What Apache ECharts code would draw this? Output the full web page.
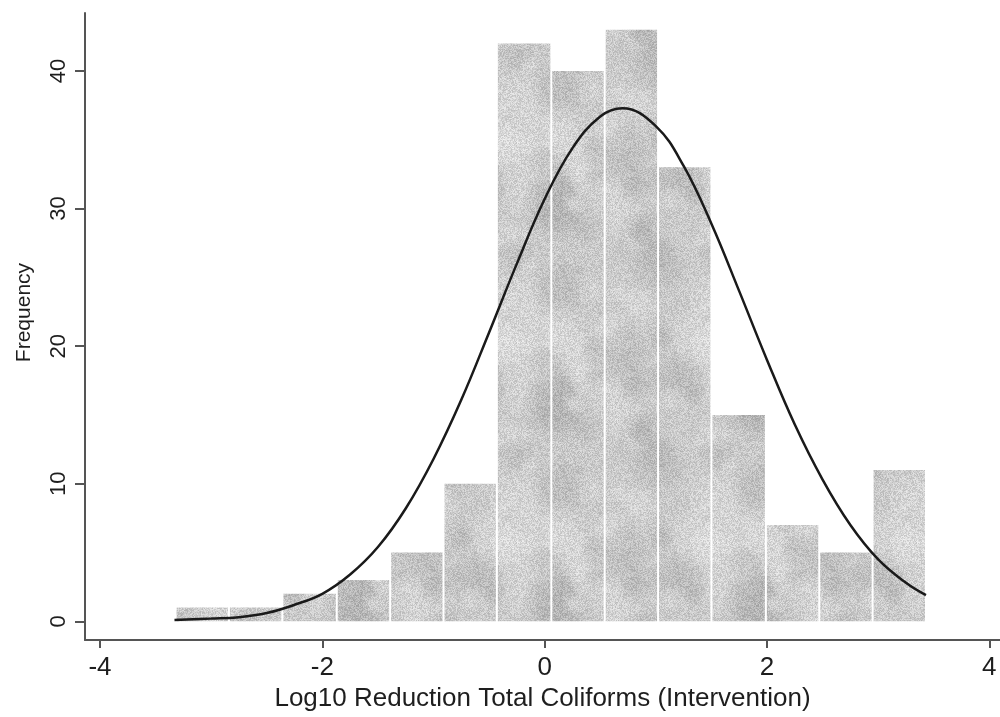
<!DOCTYPE html>
<html>
<head>
<meta charset="utf-8">
<script src="https://cdn.jsdelivr.net/npm/echarts@6/dist/echarts.min.js"></script>
<style>
  html, body { margin: 0; padding: 0; background: #ffffff; }
  #chart { width: 1000px; height: 717px; }
</style>
</head>
<body>
<div id="chart"></div>
<script>
// Histogram bin edges (log10 reduction) and the frequency in each bin
const binEdges = [-3.32, -2.84, -2.36, -1.87, -1.39, -0.91, -0.43, 0.06, 0.54, 1.02, 1.50, 1.99, 2.47, 2.95, 3.43];
const frequencies = [1, 1, 2, 3, 5, 10, 42, 40, 43, 33, 15, 7, 5, 11];

// Overlaid normal density curve, scaled to frequency
const curveX = [-3.33, -3.0, -2.75, -2.5, -2.25, -2.0, -1.75, -1.5, -1.25, -1.0, -0.75, -0.5, -0.25, 0.0, 0.25, 0.5, 0.7, 1.0, 1.25, 1.5, 1.75, 2.0, 2.25, 2.5, 2.75, 3.0, 3.25, 3.43];
const curveY = [0.1, 0.2, 0.3, 0.6, 1.2, 2.0, 3.4, 5.4, 8.2, 11.8, 16.1, 21.0, 26.0, 30.7, 34.4, 36.7, 37.3, 36.0, 33.1, 28.9, 24.0, 19.0, 14.3, 10.3, 7.0, 4.5, 2.8, 1.9];

// Axis ticks
const xTicks = [-4, -2, 0, 2, 4];
const yTicks = [0, 10, 20, 30, 40];

const xTitle = 'Log10 Reduction Total Coliforms (Intervention)';
const yTitle = 'Frequency';

const barData = frequencies.map((f, i) => [binEdges[i], binEdges[i + 1], f]);
const curveData = curveX.map((x, i) => [x, curveY[i]]);

const FONT = '"Liberation Sans", Arial, sans-serif';
const AXIS_COLOR = '#555555';
const TEXT_COLOR = '#1e1e1e';

// Grainy, mottled grey fill for the bars (deterministic hash, same every time)
function makeBarTexture() {
  const size = 200;
  const c = document.createElement('canvas');
  c.width = size; c.height = size;
  const ctx = c.getContext('2d');
  ctx.fillStyle = '#cacaca';
  ctx.fillRect(0, 0, size, size);
  const hash = (i) => {
    const s = Math.sin(i * 127.1 + 311.7) * 43758.5453;
    return s - Math.floor(s);
  };
  // soft darker and lighter patches
  for (let i = 0; i < 46; i++) {
    const cx = hash(i) * size, cy = hash(i + 50) * size, r = 10 + hash(i + 100) * 26;
    const dark = i % 2 === 0;
    const col = dark ? '178,178,178' : '222,222,222';
    const g = ctx.createRadialGradient(cx, cy, 0, cx, cy, r);
    g.addColorStop(0, 'rgba(' + col + ',0.6)');
    g.addColorStop(0.6, 'rgba(' + col + ',0.35)');
    g.addColorStop(1, 'rgba(' + col + ',0)');
    for (const dx of [-size, 0, size]) {
      for (const dy of [-size, 0, size]) {
        ctx.save();
        ctx.translate(dx, dy);
        ctx.fillStyle = g;
        ctx.beginPath();
        ctx.arc(cx, cy, r, 0, Math.PI * 2);
        ctx.fill();
        ctx.restore();
      }
    }
  }
  // fine grain over every pixel
  const img = ctx.getImageData(0, 0, size, size);
  const d = img.data;
  for (let p = 0; p < size * size; p++) {
    const n = (hash(p + 7000) - 0.5) * 44;
    d[p * 4] = Math.max(0, Math.min(255, d[p * 4] + n));
    d[p * 4 + 1] = Math.max(0, Math.min(255, d[p * 4 + 1] + n));
    d[p * 4 + 2] = Math.max(0, Math.min(255, d[p * 4 + 2] + n));
  }
  ctx.putImageData(img, 0, 0);
  return c;
}
const barTexture = makeBarTexture();

const chart = echarts.init(document.getElementById('chart'), null, { renderer: 'canvas' });

chart.setOption({
  animation: false,
  backgroundColor: '#ffffff',
  grid: { left: 85, right: 0, top: 13, bottom: 70 },
  xAxis: {
    type: 'value',
    min: -4.135,
    max: 4.096,
    splitLine: { show: false },
    axisLine: { show: true, onZero: false, lineStyle: { color: AXIS_COLOR, width: 2 } },
    axisTick: { show: true, customValues: xTicks, length: 8, lineStyle: { color: AXIS_COLOR, width: 2 } },
    axisLabel: {
      customValues: xTicks,
      margin: 15,
      fontFamily: FONT,
      fontSize: 26,
      color: TEXT_COLOR
    },
    name: xTitle,
    nameLocation: 'middle',
    nameGap: 40,
    nameTextStyle: { fontFamily: FONT, fontSize: 26, color: TEXT_COLOR }
  },
  yAxis: {
    type: 'value',
    min: -1.367,
    max: 44.22,
    splitLine: { show: false },
    axisLine: { show: true, onZero: false, lineStyle: { color: AXIS_COLOR, width: 2 } },
    axisTick: { show: true, customValues: yTicks, length: 10, lineStyle: { color: AXIS_COLOR, width: 2 } },
    axisLabel: {
      customValues: yTicks,
      rotate: 90,
      margin: 15,
      fontFamily: FONT,
      fontSize: 22,
      color: TEXT_COLOR
    },
    name: yTitle,
    nameLocation: 'middle',
    nameGap: 50,
    nameTextStyle: { fontFamily: FONT, fontSize: 21, color: TEXT_COLOR, padding: [0, 0, 0, 28] }
  },
  series: [
    {
      type: 'custom',
      name: 'Frequency',
      data: barData,
      encode: { x: [0, 1], y: 2 },
      z: 2,
      renderItem: function (params, api) {
        const p0 = api.coord([api.value(0), 0]);
        const p1 = api.coord([api.value(1), api.value(2)]);
        const x = p0[0] + 1;
        const w = p1[0] - p0[0] - 2;
        return {
          type: 'rect',
          shape: { x: x, y: p1[1], width: w, height: p0[1] - p1[1] },
          style: { fill: { image: barTexture, repeat: 'repeat' } }
        };
      }
    },
    {
      type: 'line',
      name: 'Normal density',
      data: curveData,
      smooth: 0.4,
      showSymbol: false,
      symbol: 'none',
      z: 3,
      lineStyle: { color: '#1a1a1a', width: 2.5 }
    }
  ]
});
</script>
</body>
</html>
